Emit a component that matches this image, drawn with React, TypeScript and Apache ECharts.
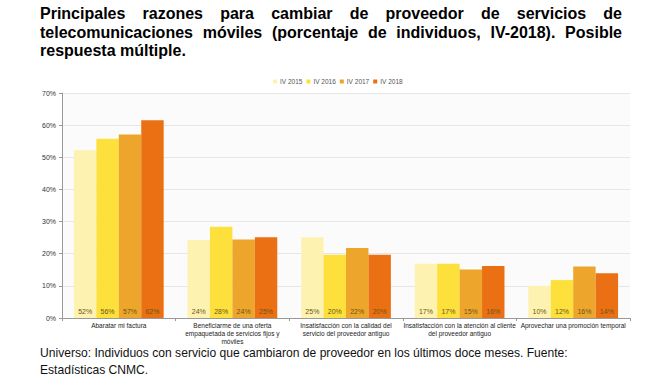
import React, { useEffect, useRef } from "react";
import * as echarts from "echarts";

const categories = [
  "Abaratar mi factura",
  "Beneficiarme de una oferta\nempaquetada de servicios fijos y\nmóviles",
  "Insatisfacción con la calidad del\nservicio del proveedor antiguo",
  "Insatisfacción con la atención al cliente\ndel proveedor antiguo",
  "Aprovechar una promoción temporal",
];
const seriesNames = ["IV 2015", "IV 2016", "IV 2017", "IV 2018"];
const iv2015 = [52.2, 24.3, 25.1, 16.9, 10.0];
const iv2016 = [55.8, 28.4, 19.7, 16.9, 11.8];
const iv2017 = [57.1, 24.4, 21.8, 15.1, 16.0];
const iv2018 = [61.5, 25.1, 19.7, 16.2, 13.9];
const yTicks = { min: 0, max: 70, interval: 10 };
const titleLines = [
  "Principales razones para cambiar de proveedor de servicios de",
  "telecomunicaciones móviles (porcentaje de individuos, IV-2018). Posible",
  "respuesta múltiple.",
];
const footerLines = [
  "Universo: Individuos con servicio que cambiaron de proveedor en los últimos doce meses. Fuente:",
  "Estadísticas CNMC.",
];

const colors = ["#FEF2B0", "#FDE03C", "#EEA52B", "#EA7013"];
const FONT = "'Liberation Sans', Arial, sans-serif";

function buildTitle(): any[] {
  const canvas = document.createElement("canvas");
  const ctx = canvas.getContext("2d")!;
  const fs = 16;
  ctx.font = `bold ${fs}px ${FONT}`;
  const left = 40;
  const right = 622;
  const ys = [13, 32, 50.5];
  const els: any[] = [];
  titleLines.forEach((line, i) => {
    const words = line.split(" ");
    const justify = i < titleLines.length - 1;
    const widths = words.map((w) => ctx.measureText(w).width);
    const total = widths.reduce((a, b) => a + b, 0);
    const spaceNat = ctx.measureText(" ").width;
    const gap = justify ? (right - left - total) / (words.length - 1) : spaceNat;
    let x = left;
    words.forEach((w, j) => {
      els.push({
        type: "text",
        x,
        y: ys[i],
        style: {
          text: w,
          font: `bold ${fs}px ${FONT}`,
          fill: "#000",
          textVerticalAlign: "middle",
          textAlign: "left",
        },
      });
      x += widths[j] + gap;
    });
  });
  return els;
}

export default function App() {
  const ref = useRef<HTMLDivElement>(null);
  useEffect(() => {
    if (!ref.current) return;
    const chart = echarts.init(ref.current, null, { renderer: "svg" });
    const data = [iv2015, iv2016, iv2017, iv2018];
    chart.setOption({
      animation: false,
      backgroundColor: "#fff",
      textStyle: { fontFamily: FONT },
      legend: {
        data: seriesNames,
        top: 73,
        left: 268,
        itemWidth: 4,
        itemHeight: 4,
        itemGap: 4,
        icon: "rect",
        textStyle: { fontSize: 6.5, color: "#555", padding: [0, 0, 0, -2] },
      },
      grid: {
        left: 62,
        right: 42,
        top: 93,
        bottom: 60,
        show: true,
        backgroundColor: "#fbfbfb",
        borderWidth: 0,
      },
      xAxis: {
        type: "category",
        data: categories,
        axisLine: { lineStyle: { color: "#999" } },
        axisTick: { show: true, length: 3, lineStyle: { color: "#999" } },
        axisLabel: {
          interval: 0,
          fontSize: 6.5,
          color: "#222",
          lineHeight: 8,
          margin: 3,
        },
      },
      yAxis: {
        type: "value",
        min: yTicks.min,
        max: yTicks.max,
        interval: yTicks.interval,
        axisLine: { show: true, lineStyle: { color: "#999" } },
        axisTick: { show: true, length: 3, lineStyle: { color: "#999" } },
        splitLine: { lineStyle: { color: "#e6e6e6" } },
        axisLabel: {
          formatter: "{value}%",
          fontSize: 7,
          color: "#333",
          margin: 6,
        },
      },
      series: seriesNames.map((name, i) => ({
        name,
        type: "bar",
        data: data[i],
        barGap: "0%",
        barCategoryGap: "21%",
        itemStyle: { color: colors[i] },
        label: {
          show: true,
          position: "insideBottom",
          distance: 3,
          fontSize: 7,
          color: "#6a5518",
          formatter: (p: any) => Math.round(p.value) + "%",
        },
      })),
      graphic: [
        ...buildTitle(),
        ...footerLines.map((t, i) => ({
          type: "text",
          x: 40,
          y: 353 + i * 17,
          style: {
            text: t,
            font: `12.1px ${FONT}`,
            fill: "#111",
            textVerticalAlign: "middle",
          },
        })),
      ],
    });
    return () => chart.dispose();
  }, []);
  return (
    <div
      ref={ref}
      style={{ width: 672, height: 378, position: "absolute", left: 0, top: 0 }}
    />
  );
}
